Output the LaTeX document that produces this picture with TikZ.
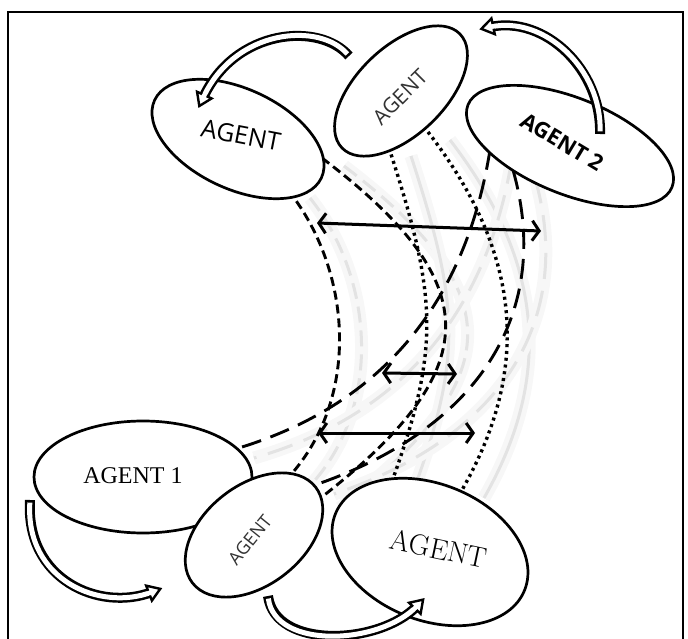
\documentclass[tikz,border=0pt]{standalone}
\usepackage{fontspec}
\newfontfamily\agentsans{Open Sans}
\newfontfamily\agentserif{Liberation Serif}
\usetikzlibrary{shapes.geometric,arrows.meta,decorations.markings}
\tikzset{
  agent/.style={ellipse, draw, line width=2.7pt, fill=white, inner sep=0pt},
  lbl/.style={inner sep=0pt},
  shortdash/.style={line width=2.9pt, dash pattern=on 9pt off 5pt},
  longdash/.style={line width=2.9pt, dash pattern=on 20pt off 10pt},
  dotline/.style={line width=3.4pt, dash pattern=on 3pt off 3.8pt},
  shadowline/.style={draw=black!11, line width=3pt,
     preaction={draw=black!7, line width=7pt},
     preaction={draw=black!3, line width=13pt}},
  twoway/.style={line width=3pt, {Straight Barb[length=7pt,width=20pt]}-{Straight Barb[length=7pt,width=20pt]}},
}
\newcommand\bandarrow[1]{%
  \draw[line width=10pt] #1;
  \draw[white, line width=5pt, shorten <=2.6pt] #1;
  \path[decorate, decoration={markings, mark=at position 0.999 with {\draw[line width=2.4pt, fill=white, line join=miter] (-3pt,-2.5pt) -- (-3pt,-8pt) -- (9pt,0pt) -- (-3pt,8pt) -- (-3pt,2.5pt);}}] #1;
}
\begin{document}
\begin{tikzpicture}[x=1pt,y=-1pt]
\useasboundingbox (0,0) rectangle (688,639);
% frame
\draw[line width=2.2pt] (8,642) -- (8,12) -- (683,12) -- (683,642);

% blurred shadows of the links
\begin{scope}[shift={(22,8)}]
  \draw[shadowline, dash pattern=on 16pt off 8pt] (288,190) .. controls (352,270) and (362,400) .. (286,480);
  \draw[shadowline, dash pattern=on 16pt off 8pt] (322,158) .. controls (489,285) and (486,370) .. (318,500);
  \draw[shadowline] (389,148) .. controls (437,296) and (441,347) .. (391,484);
  \draw[shadowline] (428,132) .. controls (526,259) and (528,374) .. (462,490);
  \draw[shadowline, dash pattern=on 26pt off 12pt] (490,150) .. controls (464,311) and (374,409) .. (232,450);
  \draw[shadowline, dash pattern=on 26pt off 12pt] (513,170) .. controls (553,311) and (481,429) .. (312,486);
\end{scope}

% link end points
\coordinate (c1a) at (288,190); \coordinate (c1b) at (286,480);
\coordinate (c2a) at (322,158); \coordinate (c2b) at (318,500);
\coordinate (c3a) at (389,148); \coordinate (c3b) at (391,484);
\coordinate (c4a) at (428,132); \coordinate (c4b) at (462,490);
\coordinate (c5a) at (490,150); \coordinate (c5b) at (232,450);
\coordinate (c6a) at (513,170); \coordinate (c6b) at (312,486);

% links
\draw[shortdash] (c1a) .. controls (352,270) and (362,400) .. (c1b);
\draw[shortdash] (c2a) .. controls (489,285) and (486,370) .. (c2b);
\draw[dotline] (c3a) .. controls (437,296) and (441,347) .. (c3b);
\draw[dotline] (c4a) .. controls (526,259) and (528,374) .. (c4b);
\draw[longdash] (c5a) .. controls (464,311) and (374,409) .. (c5b);
\draw[longdash] (c6a) .. controls (553,311) and (481,429) .. (c6b);

% agents
\node[agent, minimum width=184pt, minimum height=100pt, rotate=-25] (tl) at (238,139) {};
\node[agent, minimum width=164pt, minimum height=88pt, rotate=44] (tm) at (401,91) {};
\node[agent, minimum width=220pt, minimum height=96pt, rotate=-22] (a2) at (570,146) {};
\node[agent, minimum width=218pt, minimum height=112pt] (a1) at (143,477) {};
\node[agent, minimum width=156pt, minimum height=100pt, rotate=38] (sm) at (254,535) {};
\node[agent, minimum width=204pt, minimum height=136pt, rotate=-22] (br) at (430,552) {};

% labels
\node[lbl, rotate=-11, font=\agentsans\fontsize{25}{25}\selectfont] (tlt) at (241,135) {AGENT};
\node[lbl, rotate=45, text=black!80, font=\agentsans\fontsize{21}{21}\selectfont] (tmt) at (400,97) {AGENT};
\node[lbl, rotate=-31, font=\agentsans\bfseries\fontsize{22}{22}\selectfont] (a2t) at (562,142) {AGENT 2};
\node[lbl, font=\agentserif\fontsize{24}{24}\selectfont] (a1t) at (133,476) {AGENT 1};
\node[lbl, rotate=51, text=black!80, font=\agentsans\fontsize{18}{18}\selectfont] (smt) at (250,540) {AGENT};
\node[lbl, rotate=-12, font=\fontsize{29}{29}\selectfont] (brt) at (439,549) {AGENT};

% self-loop arrows
\bandarrow{(349,56) .. controls (320,22) and (235,28) .. (203,98)}
\bandarrow{(600,134) .. controls (602,70) and (545,15) .. (490,27)}
\bandarrow{(30,500) .. controls (25,580) and (100,612) .. (152,592)}
\bandarrow{(268,596) .. controls (275,650) and (380,645) .. (417,606)}

% two-way arrows
\coordinate (d1a) at (317,223); \coordinate (d1b) at (541,231);
\coordinate (d2a) at (382,373); \coordinate (d2b) at (457,374);
\coordinate (d3a) at (318,433); \coordinate (d3b) at (475,433);
\draw[twoway] (d1a) -- (d1b);
\draw[twoway] (d2a) -- (d2b);
\draw[twoway] (d3a) -- (d3b);
\end{tikzpicture}
\end{document}
